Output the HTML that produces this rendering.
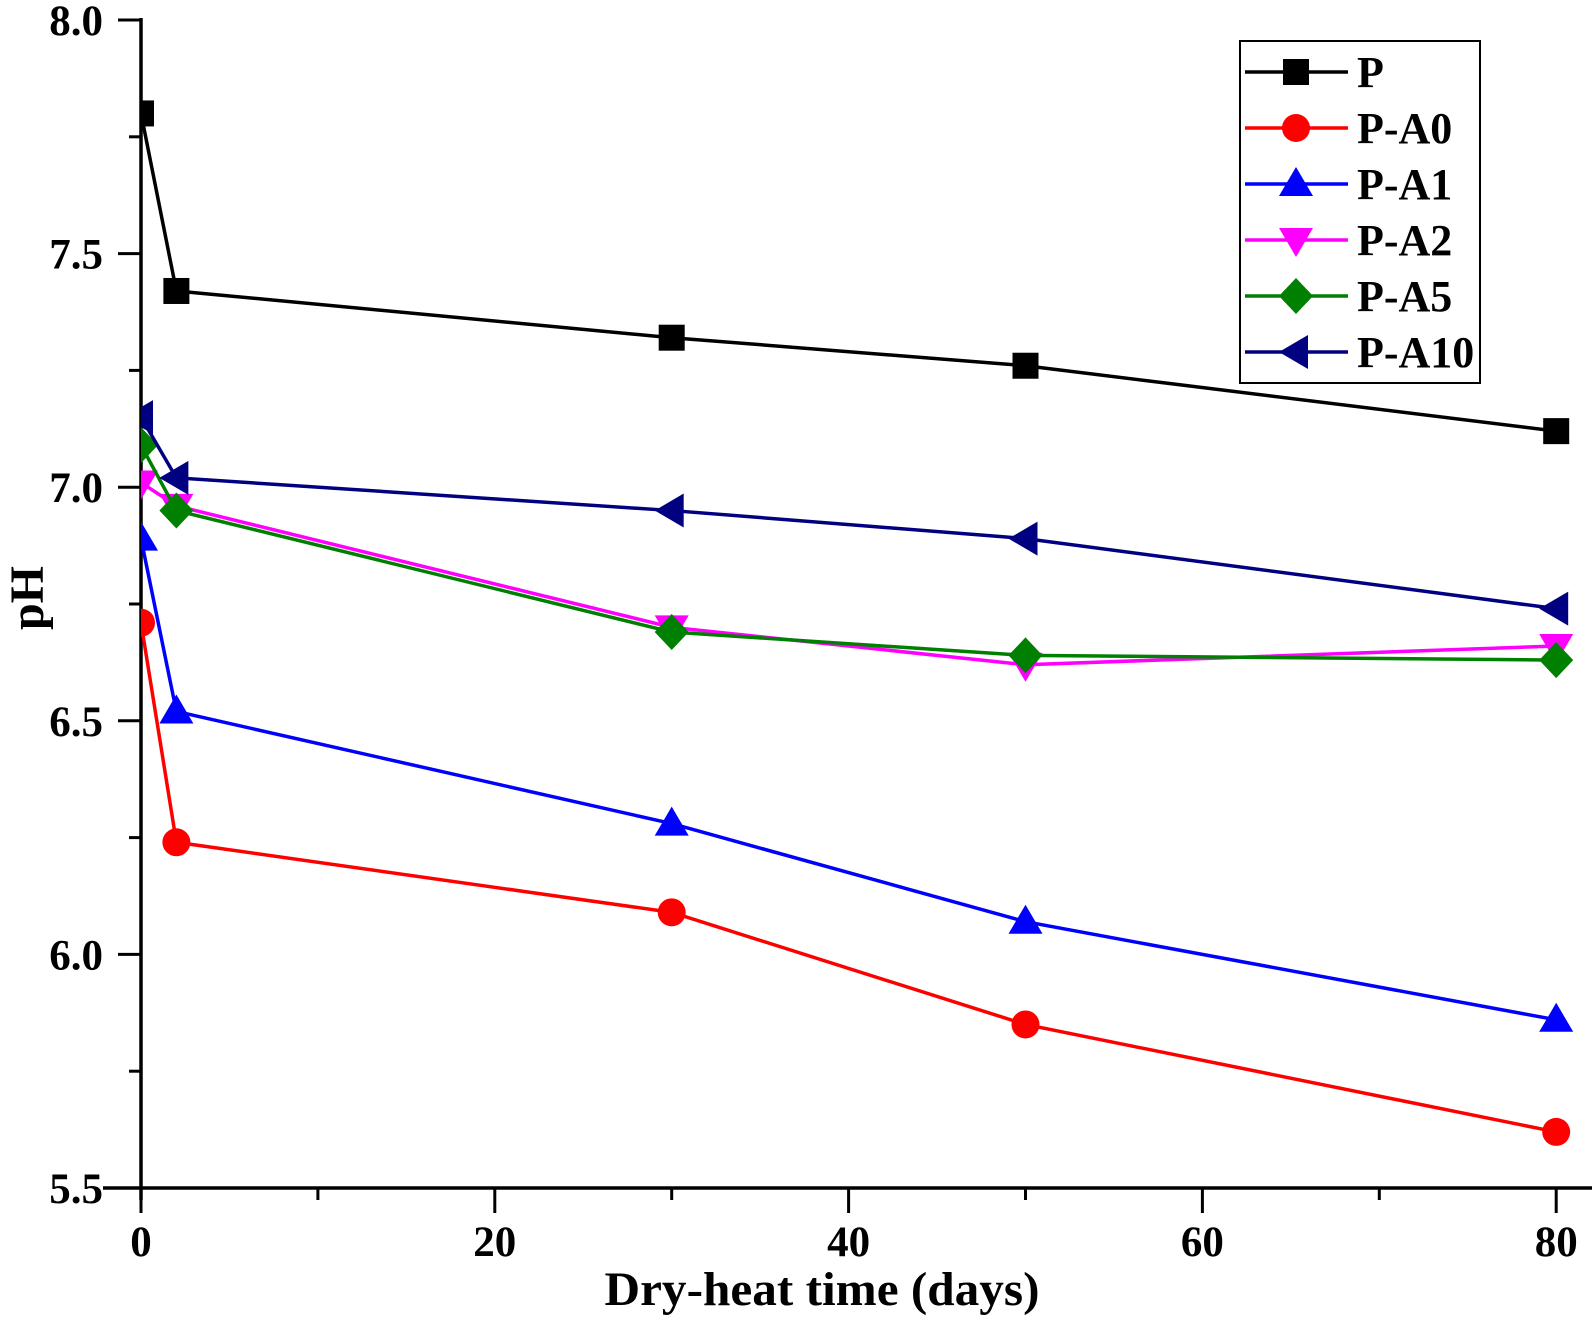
<!DOCTYPE html>
<html><head><meta charset="utf-8"><style>
html,body{margin:0;padding:0;background:#fff;}
svg{display:block;font-family:"Liberation Serif",serif;font-weight:bold;}
</style></head><body>
<svg id="s" width="1594" height="1318" viewBox="0 0 1594 1318" xmlns="http://www.w3.org/2000/svg">
<defs><clipPath id="c"><rect x="141" y="0" width="1453" height="1188"/></clipPath></defs>
<g id="axes" stroke="#000" stroke-width="3.5" fill="none">
<line x1="141" y1="18" x2="141" y2="1200"/>
<line x1="103" y1="1188" x2="1592" y2="1188"/>
</g>
<g id="ticks" stroke="#000" stroke-width="3"></g>
<g id="labels" font-size="43" fill="#000"></g>
<text x="822" y="1305" font-size="48" text-anchor="middle" textLength="435" lengthAdjust="spacingAndGlyphs">Dry-heat time (days)</text>
<text transform="translate(43,598) rotate(-90)" font-size="48" text-anchor="middle">pH</text>
<g id="series" clip-path="url(#c)"></g>
<rect x="1240" y="41" width="240" height="342" fill="#fff" stroke="#000" stroke-width="2"/>
<g id="legend"></g>
</svg>
<script>
const NS="http://www.w3.org/2000/svg";
const X=v=>141+v*17.69, Y=v=>20+(8-v)*467.2;
function el(p,t,a,txt){const e=document.createElementNS(NS,t);for(const k in a)e.setAttribute(k,a[k]);if(txt!=null)e.textContent=txt;p.appendChild(e);return e;}
const tk=document.getElementById('ticks'),lb=document.getElementById('labels');
for(let v=5.5;v<=8.001;v+=0.25){const y=Y(v);const maj=Math.abs(v*2-Math.round(v*2))<1e-6;
 el(tk,'line',{x1:maj?118:129,y1:y,x2:141,y2:y});
 if(maj)el(lb,'text',{x:103,y:y+15,'text-anchor':'end'},v.toFixed(1));}
for(let v=0;v<=80;v+=10){const x=X(v);const maj=v%20==0;
 el(tk,'line',{x1:x,y1:1188,x2:x,y2:maj?1213:1200});
 if(maj)el(lb,'text',{x:x,y:1256,'text-anchor':'middle'},String(v));}
const xs=[0,2,30,50,80];
const S=[
 ['P','#000','sq',[7.80,7.42,7.32,7.26,7.12]],
 ['P-A0','#ff0000','ci',[6.71,6.24,6.09,5.85,5.62]],
 ['P-A1','#0000ff','tu',[6.89,6.52,6.28,6.07,5.86]],
 ['P-A2','#ff00ff','td',[7.01,6.96,6.70,6.62,6.66]],
 ['P-A5','#008000','di',[7.09,6.95,6.69,6.64,6.63]],
 ['P-A10','#000080','tl',[7.15,7.02,6.95,6.89,6.74]]];
function mk(p,t,x,y,c){
 if(t=='sq')el(p,'rect',{x:x-13,y:y-13,width:26,height:26,fill:c});
 if(t=='ci')el(p,'circle',{cx:x,cy:y,r:14,fill:c});
 if(t=='tu')el(p,'polygon',{points:`${x},${y-17} ${x+17},${y+12} ${x-17},${y+12}`,fill:c});
 if(t=='td')el(p,'polygon',{points:`${x},${y+17} ${x+17},${y-12} ${x-17},${y-12}`,fill:c});
 if(t=='di')el(p,'polygon',{points:`${x},${y-18} ${x+17},${y} ${x},${y+18} ${x-17},${y}`,fill:c});
 if(t=='tl')el(p,'polygon',{points:`${x-17},${y} ${x+12},${y-17} ${x+12},${y+17}`,fill:c});
}
const sg=document.getElementById('series'),lg=document.getElementById('legend');
S.forEach((s,i)=>{
 const pts=xs.map((x,j)=>X(x)+','+Y(s[3][j])).join(' ');
 el(sg,'polyline',{points:pts,fill:'none',stroke:s[1],'stroke-width':3.5});
 xs.forEach((x,j)=>mk(sg,s[2],X(x),Y(s[3][j]),s[1]));
 const ly=72+i*56;
 el(lg,'line',{x1:1245,y1:ly,x2:1348,y2:ly,stroke:s[1],'stroke-width':3.5});
 mk(lg,s[2],1296,ly,s[1]);
 el(lg,'text',{x:1357,y:ly+15,'font-size':44,fill:'#000'},s[0]);
});
</script>
</body></html>
